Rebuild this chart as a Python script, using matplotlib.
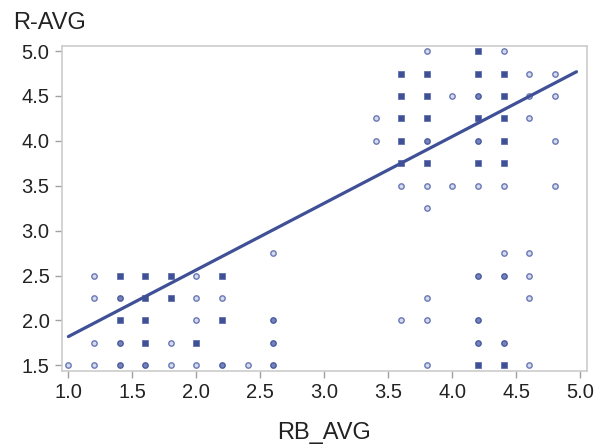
import numpy as np
import matplotlib
matplotlib.use("Agg")
import matplotlib.pyplot as plt

# points: RB_AVG, R-AVG, how many overlap (1 light, 2 medium, 3 dark)
rb_avg = [1.2, 1.4, 1.6, 1.8, 2.0, 2.2,
          1.2, 1.4, 1.6, 1.8, 2.0, 2.2,
          1.4, 1.6, 2.0, 2.2, 2.6,
          1.2, 1.4, 1.6, 1.8, 2.0, 2.6,
          1.0, 1.2, 1.4, 1.6, 1.8, 2.0, 2.2, 2.4, 2.6,
          2.6,
          3.8, 4.2, 4.4,
          3.6, 3.8, 4.2, 4.4, 4.6, 4.8,
          3.6, 3.8, 4.0, 4.2, 4.4, 4.6, 4.8,
          3.4, 3.6, 3.8, 4.2, 4.4, 4.6,
          3.4, 3.6, 3.8, 4.2, 4.4, 4.8,
          3.6, 3.8, 4.2, 4.4,
          3.6, 3.8, 4.0, 4.2, 4.4, 4.8,
          3.8,
          4.4, 4.6,
          4.2, 4.4, 4.6,
          3.8, 4.6,
          3.6, 3.8, 4.2,
          4.2, 4.4,
          3.8, 4.2, 4.4, 4.6]
r_avg = [2.5] * 6 + [2.25] * 6 + [2.0] * 5 + [1.75] * 6 + [1.5] * 9 + [2.75] \
    + [5.0] * 3 + [4.75] * 6 + [4.5] * 7 + [4.25] * 6 + [4.0] * 6 + [3.75] * 4 \
    + [3.5] * 6 + [3.25] + [2.75] * 2 + [2.5] * 3 + [2.25] * 2 + [2.0] * 3 \
    + [1.75] * 2 + [1.5] * 4
counts = [1, 3, 3, 3, 1, 3,
          1, 2, 3, 3, 1, 1,
          3, 3, 1, 3, 2,
          1, 2, 3, 1, 3, 2,
          1, 1, 2, 2, 1, 1, 2, 1, 2,
          1,
          1, 3, 1,
          3, 3, 3, 3, 1, 1,
          3, 3, 1, 2, 3, 1, 1,
          1, 3, 3, 3, 3, 1,
          1, 3, 2, 2, 3, 1,
          3, 3, 3, 3,
          1, 1, 1, 1, 1, 1,
          1,
          1, 1,
          2, 2, 1,
          1, 1,
          1, 1, 2,
          2, 2,
          1, 3, 3, 1]

# fitted line
fit_intercept = 1.077
fit_slope = 0.743
fit_range = [1.0, 4.97]

x_ticks = [1.0, 1.5, 2.0, 2.5, 3.0, 3.5, 4.0, 4.5, 5.0]
y_ticks = [1.5, 2.0, 2.5, 3.0, 3.5, 4.0, 4.5, 5.0]

plt.rcParams['font.family'] = ['Liberation Sans', 'DejaVu Sans']

navy = '#3f5096'
face_by_count = {1: '#d5d9ec', 2: '#7582bb'}
edge_by_count = {1: '#6a77b5', 2: '#4a5a9e'}

fig = plt.figure(figsize=(5.99, 4.48), dpi=100)
ax = fig.add_axes([0.1035, 0.1726, 0.876, 0.7254])

x = np.array(rb_avg)
y = np.array(r_avg)
n = np.array(counts)

for c in (1, 2):
    m = n == c
    ax.scatter(x[m], y[m], s=15, marker='o', facecolors=face_by_count[c],
               edgecolors=edge_by_count[c], linewidths=1.0, zorder=3)
m = n == 3
ax.scatter(x[m], y[m], s=13, marker='s', facecolors=navy,
           edgecolors='#5565a8', linewidths=0.5, zorder=3)

lx = np.array(fit_range)
ax.plot(lx, fit_intercept + fit_slope * lx, color=navy, lw=2.3, zorder=4,
        solid_capstyle='round')

ax.set_xlim(0.95, 5.05)
ax.set_ylim(1.44, 5.06)
ax.set_xticks(x_ticks)
ax.set_yticks(y_ticks)
ax.set_xticklabels(['%.1f' % v for v in x_ticks])
ax.set_yticklabels(['%.1f' % v for v in y_ticks])
ax.tick_params(axis='both', length=5, width=1, color='#a0a0a0',
               labelsize=14.5, labelcolor='#222222', pad=4)
for sp in ax.spines.values():
    sp.set_color('#cccccc')
    sp.set_linewidth(1.2)

ax.set_xlabel('RB_AVG', fontsize=17, color='#222222', labelpad=14)
fig.text(13 / 599, 1 - 29 / 448, 'R-AVG', fontsize=17, color='#222222',
         va='baseline', ha='left')

fig.savefig('out.png', dpi=100)
